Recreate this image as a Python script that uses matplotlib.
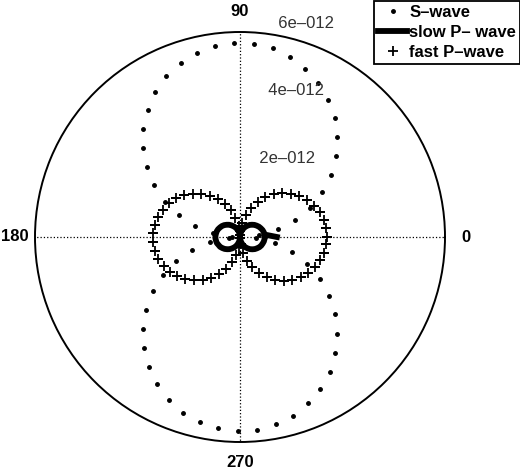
import numpy as np
import matplotlib
matplotlib.use("Agg")
import matplotlib.pyplot as plt

plt.rcParams['font.family'] = ['Liberation Sans', 'DejaVu Sans']

# angle grid of the original plot (0:0.1:6.2 rad)
theta = np.arange(63) * 0.1

# amplitudes, units of 1e-12
s_wave = [0.00, 0.57, 1.13, 1.68, 2.21, 2.72, 3.21, 3.66, 4.08, 4.45,
          4.78, 5.06, 5.29, 5.47, 5.60, 5.67, 5.68, 5.63, 5.53, 5.38,
          5.17, 4.90, 4.59, 4.24, 3.84, 3.40, 2.93, 2.43, 1.90, 1.36,
          0.80, 0.24, 0.33, 0.90, 1.45, 1.99, 2.51, 3.01, 3.48, 3.91,
          4.30, 4.65, 4.95, 5.20, 5.41, 5.55, 5.64, 5.68, 5.66, 5.58,
          5.45, 5.26, 5.02, 4.73, 4.39, 4.01, 3.59, 3.13, 2.64, 2.12,
          1.59, 1.04, 0.47]
slow_p = [1.08, 0.72, 0.71, 0.69, 0.66, 0.63, 0.59, 0.55, 0.50, 0.45,
          0.39, 0.33, 0.26, 0.19, 0.12, 0.05, 0.02, 0.09, 0.16, 0.23,
          0.30, 0.36, 0.42, 0.48, 0.53, 0.58, 0.62, 0.65, 0.68, 0.70,
          0.71, 0.72, 0.72, 0.71, 0.70, 0.67, 0.65, 0.61, 0.57, 0.52,
          0.47, 0.41, 0.35, 0.29, 0.22, 0.15, 0.08, 0.01, 0.06, 0.13,
          0.20, 0.27, 0.34, 0.40, 0.46, 0.51, 0.56, 0.60, 0.64, 0.67,
          0.69, 0.71, 0.72]
fast_p = [2.55, 2.54, 2.50, 2.44, 2.35, 2.24, 2.11, 1.95, 1.78, 1.59,
          1.38, 1.16, 0.92, 0.68, 0.43, 0.18, 0.07, 0.33, 0.58, 0.82,
          1.06, 1.29, 1.50, 1.70, 1.88, 2.04, 2.19, 2.31, 2.40, 2.48,
          2.52, 2.55, 2.55, 2.52, 2.47, 2.39, 2.29, 2.16, 2.02, 1.85,
          1.67, 1.47, 1.25, 1.02, 0.78, 0.54, 0.29, 0.03, 0.22, 0.48,
          0.72, 0.96, 1.20, 1.41, 1.62, 1.81, 1.98, 2.13, 2.26, 2.37,
          2.45, 2.51, 2.54]

rticks = [2e-12, 4e-12, 6e-12]
rtick_labels = ['2e\u2013012', '4e\u2013012', '6e\u2013012']
angle_labels = ['0', '90', '180', '270']
series_names = ['S\u2013wave', 'slow P\u2013 wave', 'fast P\u2013wave']

scale = 1e-12
rmax = 6e-12

fig = plt.figure(figsize=(5.2, 4.72), dpi=100)
ax = fig.add_axes([35 / 520, 30 / 472, 410 / 520, 410 / 472], projection='polar')
ax.set_ylim(0, rmax)
ax.set_xticks([])
ax.set_yticks([])
ax.grid(False)
ax.spines['polar'].set_linewidth(1.4)
ax.spines['polar'].set_color('k')

# dotted cross hair
for a in [0, np.pi / 2, np.pi, 3 * np.pi / 2]:
    ax.plot([a, a], [0, rmax], ':', color='k', lw=0.9)

# angle labels
for a, lab in zip([0, 90, 180, 270], angle_labels):
    ax.text(np.deg2rad(a), 1.1 * rmax, lab, ha='center', va='center',
            fontsize=12, fontweight='bold', clip_on=False)

# radius labels along 82 deg
for r, lab in zip(rticks, rtick_labels):
    ax.text(np.deg2rad(82), r + 0.1e-12, '  ' + lab, ha='left', va='bottom',
            fontsize=12, color='#333333', clip_on=False)

h1, = ax.plot(theta, np.array(s_wave) * scale, '.', color='k', markersize=5,
              label=series_names[0])
h2, = ax.plot(theta, np.array(slow_p) * scale, '-', color='k', lw=4.2,
              label=series_names[1])
h3, = ax.plot(theta, np.array(fast_p) * scale, '+', color='k', markersize=7.5,
              mew=1.3, label=series_names[2])

leg = fig.legend(handles=[h1, h2, h3], loc='upper left',
                 bbox_to_anchor=(374 / 520, 471 / 472), borderaxespad=0,
                 frameon=True, fancybox=False, edgecolor='k', framealpha=1,
                 handlelength=1.75, handletextpad=0.12, labelspacing=0.3,
                 borderpad=0.25, numpoints=1,
                 prop={'family': 'Liberation Sans', 'weight': 'bold', 'size': 12})
leg.get_frame().set_linewidth(1.3)

fig.savefig('out.png', dpi=100)
